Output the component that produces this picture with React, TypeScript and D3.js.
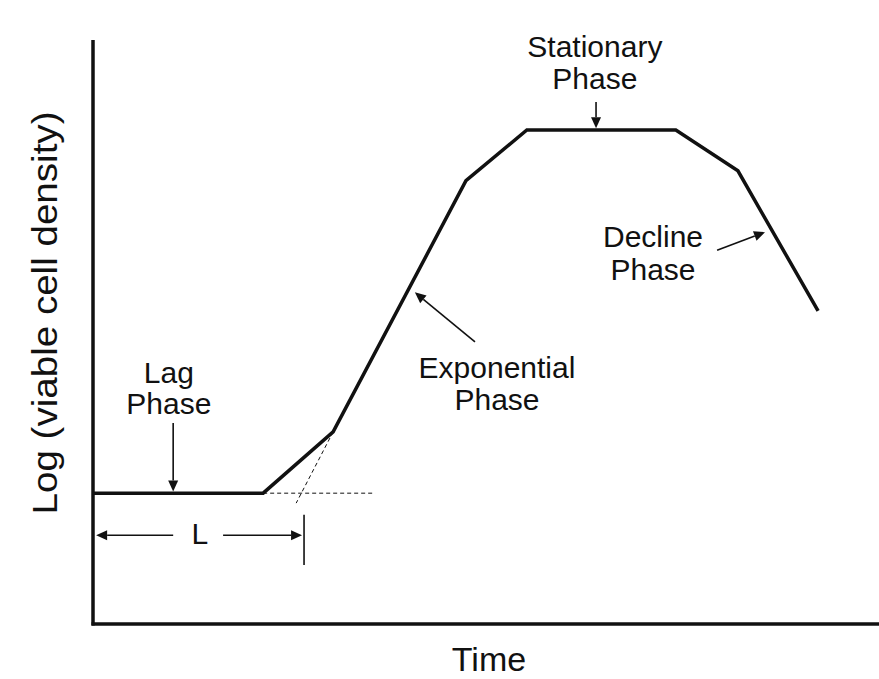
import React from "react";
import * as d3 from "d3";

// Growth curve vertices (time in arbitrary units, log viable cell density)
const timePoints = [0, 4.33, 6.11, 9.49, 11.04, 14.83, 16.41, 18.45];
const logDensity = [2.24, 2.24, 3.29, 7.59, 8.46, 8.46, 7.76, 5.36];

const lagTime = 5.37;
const axisTitles = ["Time", "Log (viable cell density)"];

type Ann = { lines: string[]; tx: number; ty: number[]; from: [number, number]; to: [number, number] };
const annotations: Ann[] = [
  { lines: ["Lag", "Phase"], tx: 1.93, ty: [4.13, 3.6], from: [2.04, 3.44], to: [2.04, 2.27] },
  { lines: ["Stationary", "Phase"], tx: 12.77, ty: [9.71, 9.16], from: [12.8, 8.94], to: [12.8, 8.49] },
  { lines: ["Decline", "Phase"], tx: 14.25, ty: [6.46, 5.89], from: [15.88, 6.4], to: [17.1, 6.71] },
  { lines: ["Exponential", "Phase"], tx: 10.28, ty: [4.21, 3.66], from: [9.72, 4.83], to: [8.19, 5.68] },
];

const W = 879;
const H = 679;
const FONT = "'Liberation Sans', Arial, Helvetica, sans-serif";

function Arrow({ x1, y1, x2, y2 }: { x1: number; y1: number; x2: number; y2: number }) {
  const ang = Math.atan2(y2 - y1, x2 - x1);
  const len = 11;
  const hw = 5;
  const bx = x2 - len * Math.cos(ang);
  const by = y2 - len * Math.sin(ang);
  const px = -Math.sin(ang) * hw;
  const py = Math.cos(ang) * hw;
  return (
    <g>
      <line x1={x1} y1={y1} x2={bx} y2={by} stroke="#111" strokeWidth={1.6} />
      <polygon points={`${x2},${y2} ${bx + px},${by + py} ${bx - px},${by - py}`} fill="#111" />
    </g>
  );
}

export default function App() {
  const x = d3.scaleLinear().domain([0, 20]).range([93, 879]);
  const y = d3.scaleLinear().domain([0, 10]).range([624, 40]);
  const pts: [number, number][] = timePoints.map((t, i) => [t, logDensity[i]]);
  const line = d3
    .line<[number, number]>()
    .x((d) => x(d[0]))
    .y((d) => y(d[1]));

  const [x0, x1] = x.range();
  const [y0, y1] = y.range();

  return (
    <svg width={W} height={H} style={{ position: "absolute", left: 0, top: 0, background: "#fff" }}>
      {/* axes */}
      <line x1={x0} y1={y1} x2={x0} y2={y0 + 1.5} stroke="#111" strokeWidth={3.5} />
      <line x1={x0 - 1.5} y1={y0} x2={x1} y2={y0} stroke="#111" strokeWidth={3.5} />

      {/* dashed construction lines */}
      <line x1={x(timePoints[1])} y1={y(logDensity[1])} x2={x(7.18)} y2={y(logDensity[1])} stroke="#111" strokeWidth={1} strokeDasharray="4 3" />
      <line x1={x(timePoints[2])} y1={y(logDensity[2])} x2={x(5.17)} y2={y(2.07)} stroke="#111" strokeWidth={1} strokeDasharray="4 3" />

      {/* growth curve */}
      <path d={line(pts) || ""} fill="none" stroke="#111" strokeWidth={3.5} />

      {/* lag-time marker */}
      <line x1={x(lagTime)} y1={y(1.87)} x2={x(lagTime)} y2={y(1.01)} stroke="#111" strokeWidth={1.6} />
      <Arrow x1={x(2.04)} y1={y(1.52)} x2={x(0.08)} y2={y(1.52)} />
      <Arrow x1={x(3.31)} y1={y(1.52)} x2={x(lagTime) - 2} y2={y(1.52)} />
      <text x={x(2.72)} y={y(1.37)} textAnchor="middle" fontFamily={FONT} fontSize={30} fill="#111">L</text>

      {/* annotations */}
      {annotations.map((a, i) => (
        <g key={i}>
          {a.lines.map((l, j) => (
            <text key={j} x={x(a.tx)} y={y(a.ty[j])} textAnchor="middle" fontFamily={FONT} fontSize={30} fill="#111">
              {l}
            </text>
          ))}
          <Arrow x1={x(a.from[0])} y1={y(a.from[1])} x2={x(a.to[0])} y2={y(a.to[1])} />
        </g>
      ))}

      {/* axis titles */}
      <text x={489} y={671} textAnchor="middle" fontFamily={FONT} fontSize={34} fill="#111">{axisTitles[0]}</text>
      <text transform="translate(57,313) rotate(-90)" textAnchor="middle" fontFamily={FONT} fontSize={35} fill="#111" textLength={403} lengthAdjust="spacingAndGlyphs">
        {axisTitles[1]}
      </text>
    </svg>
  );
}
